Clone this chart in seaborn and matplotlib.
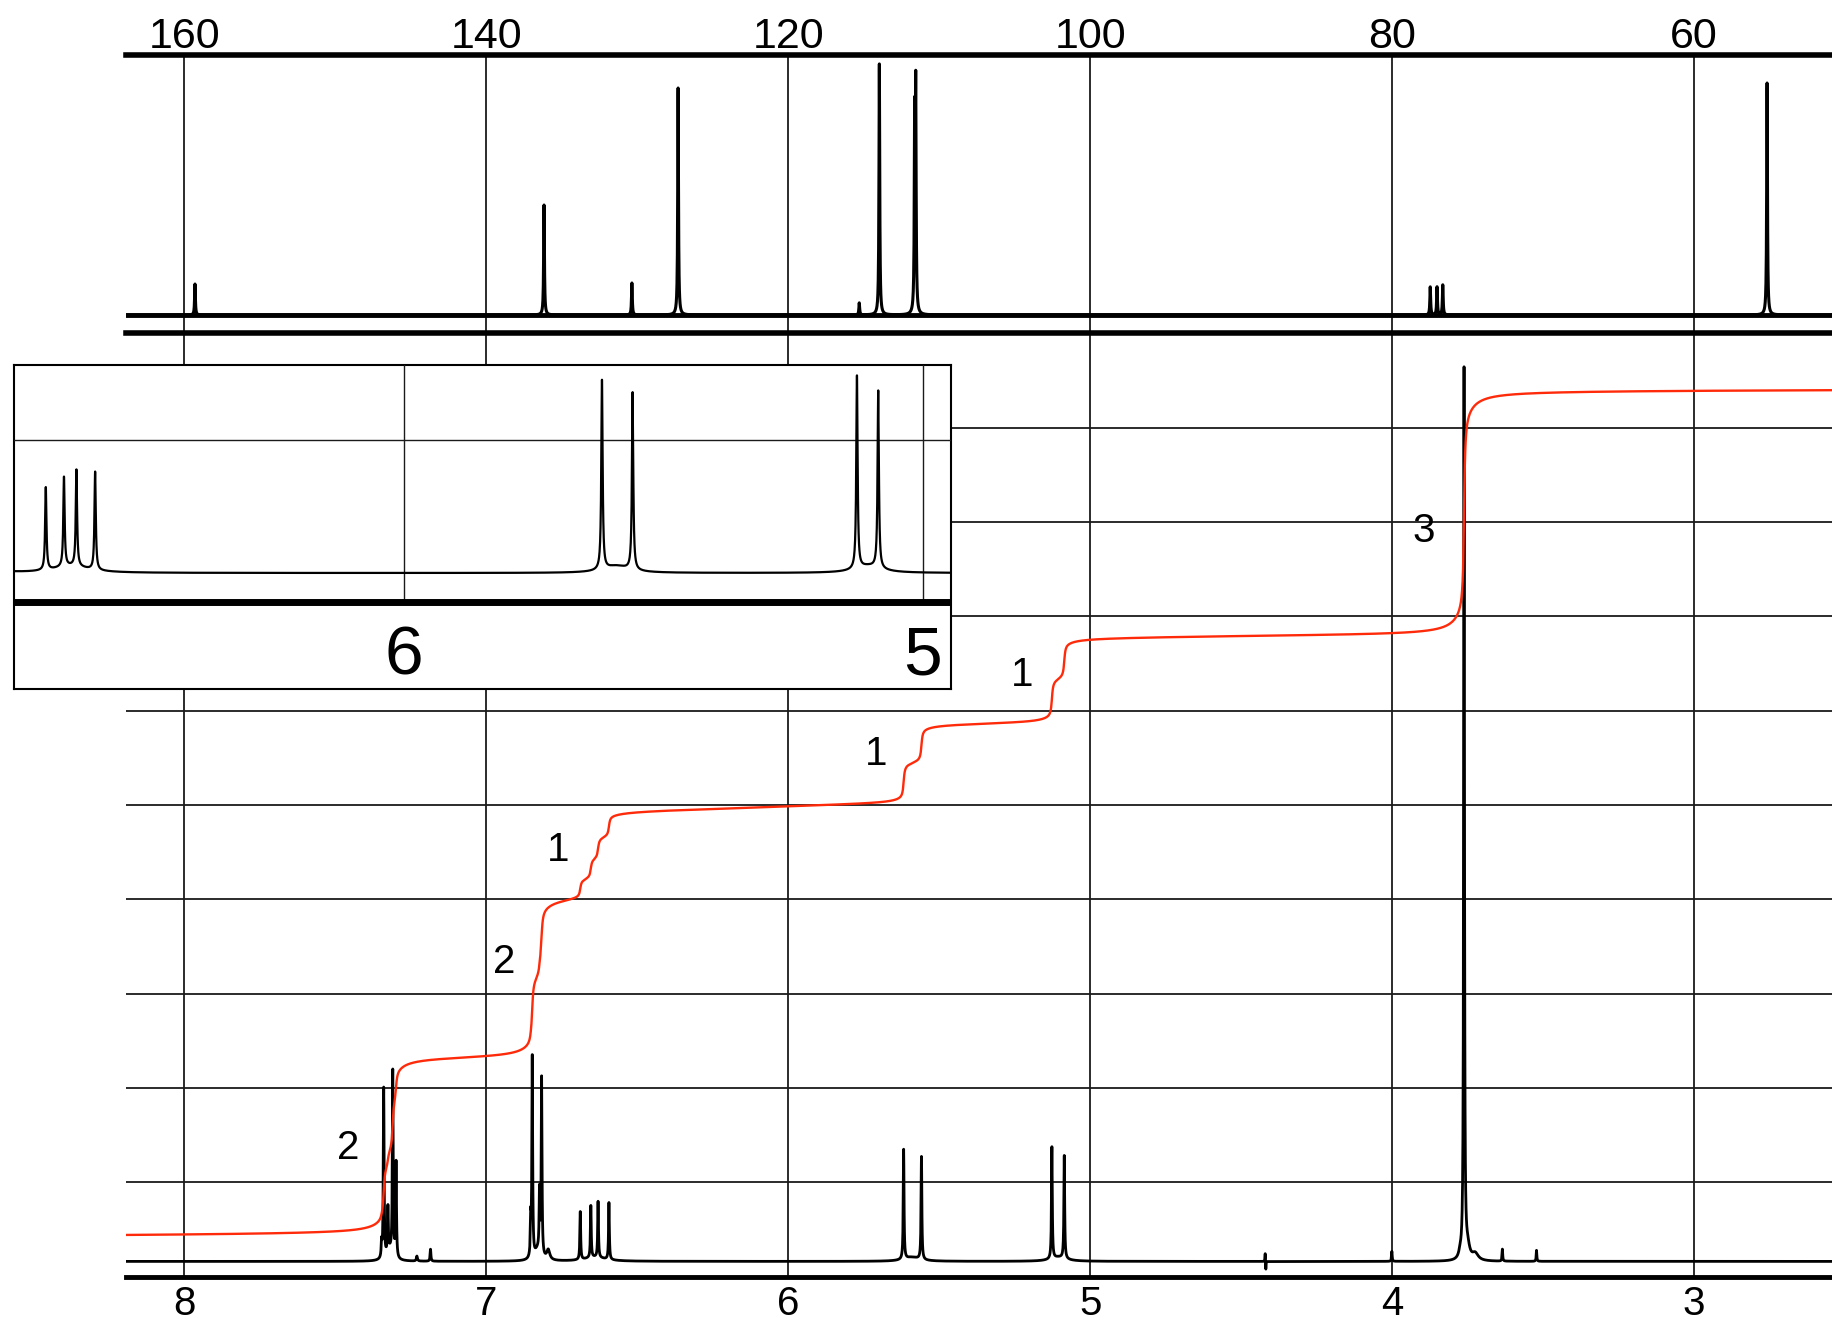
import numpy as np
import matplotlib
matplotlib.use("Agg")
import matplotlib.pyplot as plt
import seaborn as sns

# ---- data ----
# 13C lines: shift (ppm), height (px above baseline)
c13_shift = [159.3, 136.18, 130.36, 127.3, 115.3, 113.97, 111.63, 111.56, 77.48, 77.03, 76.65, 55.17]
c13_height = [31, 110, 32, 227, 12, 251, 185, 216, 28, 28, 30, 232]

# 1H lines: shift (ppm), height (px above baseline), half width (ppm), multiplet index (-1 = not integrated)
h1_shift = [7.347, 7.340, 7.326, 7.310, 7.299,
            6.853, 6.848, 6.824, 6.817,
            6.689, 6.654, 6.630, 6.594,
            5.618, 5.559,
            5.127, 5.086,
            3.762,
            7.320, 7.230, 7.185, 6.830, 6.795, 6.640, 5.590, 5.105,
            3.775, 3.750, 3.725, 3.635, 3.522, 4.001, 4.4205, 4.4185]
h1_height = [15, 170, 45, 184, 95,
             35, 200, 60, 177,
             48, 52, 56, 57,
             110, 103,
             112, 103,
             890,
             10, 5, 12, 10, 10, 4, 4, 4,
             5, 12, 7, 12, 11, 10, 9, -9]
h1_width = [0.0015, 0.0015, 0.0015, 0.0015, 0.0015,
            0.0015, 0.0015, 0.0015, 0.0015,
            0.0015, 0.0015, 0.0015, 0.0015,
            0.0015, 0.0015,
            0.0015, 0.0015,
            0.0015,
            0.012, 0.002, 0.0015, 0.012, 0.006, 0.04, 0.03, 0.03,
            0.005, 0.008, 0.012, 0.0012, 0.0012, 0.0012, 0.0008, 0.0008]
h1_group = [0, 0, 0, 0, 0,
            1, 1, 1, 1,
            2, 2, 2, 2,
            3, 3,
            4, 4,
            5,
            -1, -1, -1, -1, -1, -1, -1, -1,
            -1, -1, -1, -1, -1, -1, -1, -1]

# integration: printed proton counts, measured step heights (in protons), label positions
int_protons = [2, 2, 1, 1, 1, 3]
int_measured = [2.14, 1.93, 1.07, 0.955, 1.03, 2.98]
int_label_ppm = [7.456, 6.940, 6.764, 5.708, 5.224, 3.897]
int_label_level = [113, 300, 412, 508, 587, 731]
int_per_h = 82
int_start = 22
int_drift = 24

c13_ticks = [160, 140, 120, 100, 80, 60]
h1_ticks = [8, 7, 6, 5, 4, 3]
inset_ticks = [6, 5]

# ---- build curves from the line lists ----
def lorentz(x, x0, h, g):
    return h / (1 + ((x - x0) / g) ** 2)

def step(x, x0, g):
    return 0.5 + np.arctan((x0 - x) / g) / np.pi

xc = np.arange(50.8, 163.95, 0.005)
yc = np.zeros_like(xc)
for p, h in zip(c13_shift, c13_height):
    yc += lorentz(xc, p, h, 0.03)

xh = np.arange(2.54, 8.2, 0.0002)
yh = np.zeros_like(xh)
for p, h, g in zip(h1_shift, h1_height, h1_width):
    yh += lorentz(xh, p, h, g)

shift = np.array(h1_shift)
height = np.array(h1_height, dtype=float)
group = np.array(h1_group)
integral = int_start + int_drift * step(xh, 6.0, 1.0)
for k, n in enumerate(int_measured):
    sel = group == k
    w = height[sel] / height[sel].sum()
    for p, wi in zip(shift[sel], w):
        integral += n * int_per_h * wi * (0.85 * step(xh, p, 0.003) + 0.15 * step(xh, p, 0.035))

# ---- figure ----
sns.set_theme(style="white")
plt.rcParams["font.family"] = ["Liberation Sans", "DejaVu Sans"]

W, H = 1832, 1325
fig = plt.figure(figsize=(W / 100, H / 100), dpi=100)

def box(x0, y0, x1, y1):
    return [x0 / W, 1 - y1 / H, (x1 - x0) / W, (y1 - y0) / H]

ax_h = fig.add_axes(box(126, 333.3, 1832, 1276.6))
ax_c = fig.add_axes(box(126, 55, 1832, 333.3))
ax_box = fig.add_axes(box(13.5, 365, 951, 689))
ax_i = fig.add_axes(box(13.5, 365, 951, 602.3))

grid_kw = dict(color="#1a1a1a", linewidth=1.3)

# 13C panel
sns.lineplot(x=xc, y=yc, ax=ax_c, color="black", linewidth=2.2, estimator=None, sort=False)
ax_c.axhline(0, color="black", linewidth=3.5)
ax_c.set_xlim(163.87, 50.87)
ax_c.set_ylim(-18.3, 260)
ax_c.set_xticks(c13_ticks)
ax_c.set_yticks([])
ax_c.xaxis.tick_top()
ax_c.tick_params(axis="x", length=0, pad=-1.5, labelsize=31, labelcolor="black")
ax_c.grid(axis="x", **grid_kw)
ax_c.set_axisbelow(True)
for s in ["left", "right"]:
    ax_c.spines[s].set_visible(False)
for s in ["top", "bottom"]:
    ax_c.spines[s].set_linewidth(4)
    ax_c.spines[s].set_color("black")

# 1H panel
sns.lineplot(x=xh, y=yh, ax=ax_h, color="black", linewidth=2.0, estimator=None, sort=False)
sns.lineplot(x=xh, y=integral, ax=ax_h, color="#ff2a0a", linewidth=1.7, estimator=None, sort=False)
ax_h.set_xlim(8.1935, 2.5434)
ax_h.set_ylim(-15.2, 928.5)
ax_h.set_xticks(h1_ticks)
ax_h.set_yticks(np.linspace(-15.2, 928.5, 11))
ax_h.tick_params(axis="x", length=0, pad=6, labelsize=29, labelcolor="black")
ax_h.tick_params(axis="y", length=0, labelleft=False)
ax_h.grid(True, **grid_kw)
ax_h.set_axisbelow(True)
for s in ["left", "right", "top"]:
    ax_h.spines[s].set_visible(False)
ax_h.spines["bottom"].set_linewidth(3.5)
ax_h.spines["bottom"].set_color("black")
for p, lvl, n in zip(int_label_ppm, int_label_level, int_protons):
    ax_h.text(p, lvl, str(n), fontsize=29, ha="center", va="center", color="black")

# inset frame
ax_box.set_facecolor("white")
ax_box.set_xticks([])
ax_box.set_yticks([])
for s in ax_box.spines.values():
    s.set_linewidth(1.5)
    s.set_color("black")

# inset spectrum
ax_i.patch.set_visible(False)
sns.lineplot(x=xh, y=yh, ax=ax_i, color="black", linewidth=1.6, estimator=None, sort=False)
ax_i.set_xlim(6.7512, 4.9459)
ax_i.set_ylim(-17.0, 120.8)
ax_i.set_xticks(inset_ticks)
ax_i.set_yticks([77.0])
ax_i.tick_params(axis="x", length=0, pad=16, labelsize=50, labelcolor="black")
ax_i.tick_params(axis="y", length=0, labelleft=False)
ax_i.grid(True, color="#1a1a1a", linewidth=1.0)
ax_i.set_axisbelow(True)
for s in ["left", "right", "top"]:
    ax_i.spines[s].set_visible(False)
ax_i.spines["bottom"].set_linewidth(5)
ax_i.spines["bottom"].set_color("black")
ax_i.spines["bottom"].set_capstyle("butt")

for a in (ax_c, ax_h, ax_i):
    a.set_xlabel("")
    a.set_ylabel("")

fig.savefig("out.png", dpi=100)
